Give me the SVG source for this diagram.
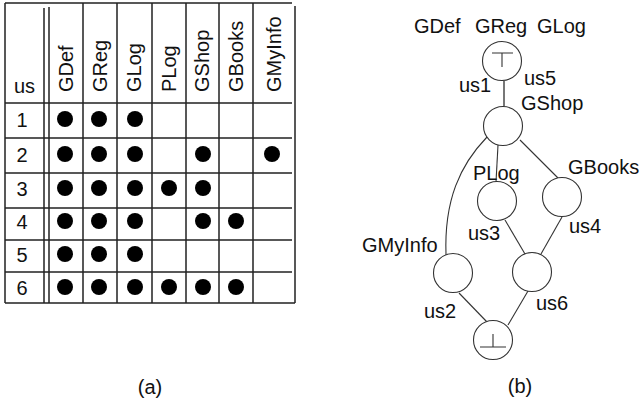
<svg xmlns="http://www.w3.org/2000/svg" width="641" height="404" viewBox="0 0 641 404">
<style>
text{font-family:"Liberation Sans",Arial,sans-serif;font-size:20px;fill:#111}
.tl{stroke:#222;stroke-width:1.5;fill:none}
.dot{fill:#000}
.nd{fill:#fff;stroke:#333;stroke-width:1.1}
.ed{fill:none;stroke:#333;stroke-width:1.1}
.mid{text-anchor:middle}
</style>
<rect width="641" height="404" fill="#fff"/>
<g id="table">
<path class="tl" d="M5,3H292M5,3V303M44,8V303M49,7V303M83,3V303M117,3V303M152,3V303M186,3V303M219,3V303M253,3V303M295,6V303M5,103H292M5,138H292M5,173H292M5,208H292M5,240H292M5,272H292M5,303H295"/>
<text x="14" y="93">us</text>
<g transform="rotate(-90)">
<text x="-92" y="73">GDef</text>
<text x="-92" y="107">GReg</text>
<text x="-92" y="141">GLog</text>
<text x="-92" y="176">PLog</text>
<text x="-92" y="209">GShop</text>
<text x="-92" y="243">GBooks</text>
<text x="-92" y="281">GMyInfo</text>
</g>
<text class="mid" x="22" y="127">1</text>
<text class="mid" x="22" y="162">2</text>
<text class="mid" x="22" y="196">3</text>
<text class="mid" x="22" y="229">4</text>
<text class="mid" x="22" y="262">5</text>
<text class="mid" x="22" y="295">6</text>
<g class="dot">
<circle cx="65" cy="119" r="8"/><circle cx="99" cy="119" r="8"/><circle cx="135" cy="119" r="8"/>
<circle cx="65" cy="154" r="8"/><circle cx="99" cy="154" r="8"/><circle cx="135" cy="154" r="8"/><circle cx="203" cy="154" r="8"/><circle cx="272" cy="154" r="8"/>
<circle cx="65" cy="188" r="8"/><circle cx="99" cy="188" r="8"/><circle cx="135" cy="188" r="8"/><circle cx="169" cy="188" r="8"/><circle cx="203" cy="188" r="8"/>
<circle cx="65" cy="221" r="8"/><circle cx="99" cy="221" r="8"/><circle cx="135" cy="221" r="8"/><circle cx="203" cy="221" r="8"/><circle cx="236" cy="221" r="8"/>
<circle cx="65" cy="254" r="8"/><circle cx="99" cy="254" r="8"/><circle cx="135" cy="254" r="8"/>
<circle cx="65" cy="287" r="8"/><circle cx="99" cy="287" r="8"/><circle cx="135" cy="287" r="8"/><circle cx="169" cy="287" r="8"/><circle cx="203" cy="287" r="8"/><circle cx="236" cy="287" r="8"/>
</g>
<text class="mid" x="150" y="394">(a)</text>
</g>
<g id="connectors">
<line x1="504" y1="81" x2="504" y2="106" stroke="#777" stroke-width="2"/>
<line class="ed" x1="498" y1="145" x2="496" y2="182"/>
<line class="ed" x1="520" y1="140" x2="558" y2="178"/>
<path class="ed" d="M487,137C460,165 444,200 446,255"/>
<line class="ed" x1="505" y1="220" x2="525" y2="254"/>
<line class="ed" x1="562" y1="217" x2="541" y2="254"/>
<line class="ed" x1="459" y1="293" x2="487" y2="322"/>
<line class="ed" x1="528" y1="291" x2="508" y2="325"/>
</g>
<g id="top">
<circle class="nd" cx="502" cy="61" r="19.5"/>
<path class="ed" d="M492,53H513M502,53V67"/>
<text x="414" y="33">GDef</text>
<text x="475" y="33">GReg</text>
<text x="537" y="33">GLog</text>
</g>
<g id="gshop">
<circle class="nd" cx="503" cy="126" r="19.5"/>
<text x="521" y="110">GShop</text>
<text x="459" y="92">us1</text>
<text x="524" y="85">us5</text>
</g>
<g id="plog">
<circle class="nd" cx="497" cy="201" r="19.5"/>
<text x="473" y="180">PLog</text>
<text x="468" y="240">us3</text>
</g>
<g id="gbooks">
<circle class="nd" cx="562" cy="197" r="19.5"/>
<text x="568" y="174">GBooks</text>
<text x="569" y="233">us4</text>
</g>
<g id="gmyinfo">
<circle class="nd" cx="453" cy="273" r="19.5"/>
<text x="362" y="252">GMyInfo</text>
<text x="424" y="318">us2</text>
</g>
<g id="us6node">
<circle class="nd" cx="532" cy="272" r="19.5"/>
<text x="536" y="310">us6</text>
</g>
<g id="bottom">
<circle class="nd" cx="493" cy="340" r="19.5"/>
<path class="ed" d="M480,347H506M493,334V347"/>
</g>
<text class="mid" x="520" y="393">(b)</text>
</svg>
